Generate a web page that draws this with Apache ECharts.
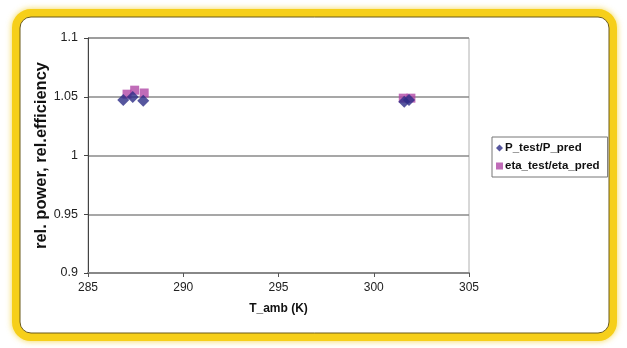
<!DOCTYPE html>
<html><head><meta charset="utf-8">
<script src="https://cdn.jsdelivr.net/npm/echarts@6/dist/echarts.min.js"></script>
<style>html,body{margin:0;padding:0;background:#fff}#c{width:627px;height:348px}</style>
</head><body><div id="c"></div>
<script>
const seriesNames = ['P_test/P_pred', 'eta_test/eta_pred'];
const pTest = [[286.85,1.0472],[287.35,1.0498],[287.9,1.0465],[301.6,1.0458],[301.85,1.0472]];
const etaTest = [[287.05,1.0522],[287.45,1.0556],[287.95,1.0532],[301.55,1.0488],[301.95,1.0488]];
const xTicks = [285, 290, 295, 300, 305];
const yTicks = [0.9, 0.95, 1, 1.05, 1.1];

const chart = echarts.init(document.getElementById('c'), null, {renderer:'canvas'});
const font = 'Liberation Sans, Arial, sans-serif';
chart.setOption({
  backgroundColor:'#fff',
  animation:false,
  graphic:[
    {type:'rect', z:-1, shape:{x:16,y:13,width:597,height:324,r:15},
     style:{fill:'none', stroke:'#f6cf1a', lineWidth:8, shadowBlur:6, shadowColor:'rgba(240,200,0,0.7)'}},
    {type:'rect', z:-1, shape:{x:20,y:17,width:589,height:316,r:11},
     style:{fill:'#fff', stroke:'#6b5a1a', lineWidth:1}}
  ],
  grid:{left:88, top:38, width:381, height:235, show:true, borderColor:'#b0b0b0', borderWidth:1, backgroundColor:'transparent'},
  legend:{
    orient:'vertical', left:492, top:137,
    padding:[5,8,5,4], itemGap:6, itemWidth:7, itemHeight:7,
    borderColor:'#777', borderWidth:1, backgroundColor:'#fff',
    textStyle:{fontFamily:font, fontWeight:'bold', fontSize:11.5, color:'#111', padding:[0,0,0,-3]},
    data:[{name:seriesNames[0], icon:'diamond'},{name:seriesNames[1], icon:'rect'}]
  },
  xAxis:{
    type:'value', min:285, max:305, interval:5,
    name:'T_amb (K)', nameLocation:'middle', nameGap:30,
    nameTextStyle:{fontFamily:font, fontWeight:'bold', fontSize:12, color:'#111'},
    axisLine:{show:true, onZero:false, lineStyle:{color:'#888', width:2}},
    axisTick:{show:true, inside:false, length:4, lineStyle:{color:'#555'}},
    axisLabel:{fontFamily:font, fontSize:12, color:'#222', margin:9,
      formatter:v=> xTicks.includes(v) ? String(v) : ''},
    splitLine:{show:false}
  },
  yAxis:{
    type:'value', min:0.9, max:1.1, interval:0.05,
    name:'rel. power, rel.efficiency', nameLocation:'middle', nameGap:38, nameRotate:90,
    nameMoveOverlap:false,
    nameTextStyle:{fontFamily:font, fontWeight:'bold', fontSize:16.5, color:'#111'},
    axisLine:{show:true, onZero:false, lineStyle:{color:'#444', width:1}},
    axisTick:{show:true, inside:false, length:4, lineStyle:{color:'#444'}},
    axisLabel:{fontFamily:font, fontSize:12.5, color:'#222', margin:10,
      formatter:v=>{ const t = yTicks.find(k=>Math.abs(k-v)<1e-9); return t===undefined?'':String(t); }},
    splitLine:{show:true, lineStyle:{color:'#8a8a8a', width:1.5}}
  },
  series:[
    {name:seriesNames[1], type:'scatter', symbol:'rect', symbolSize:9, z:2,
     itemStyle:{color:'#b047a6'}, data:etaTest},
    {name:seriesNames[0], type:'scatter', symbol:'diamond', symbolSize:12, z:3,
     itemStyle:{color:'#2c2c86'}, data:pTest}
  ]
});
</script></body></html>
